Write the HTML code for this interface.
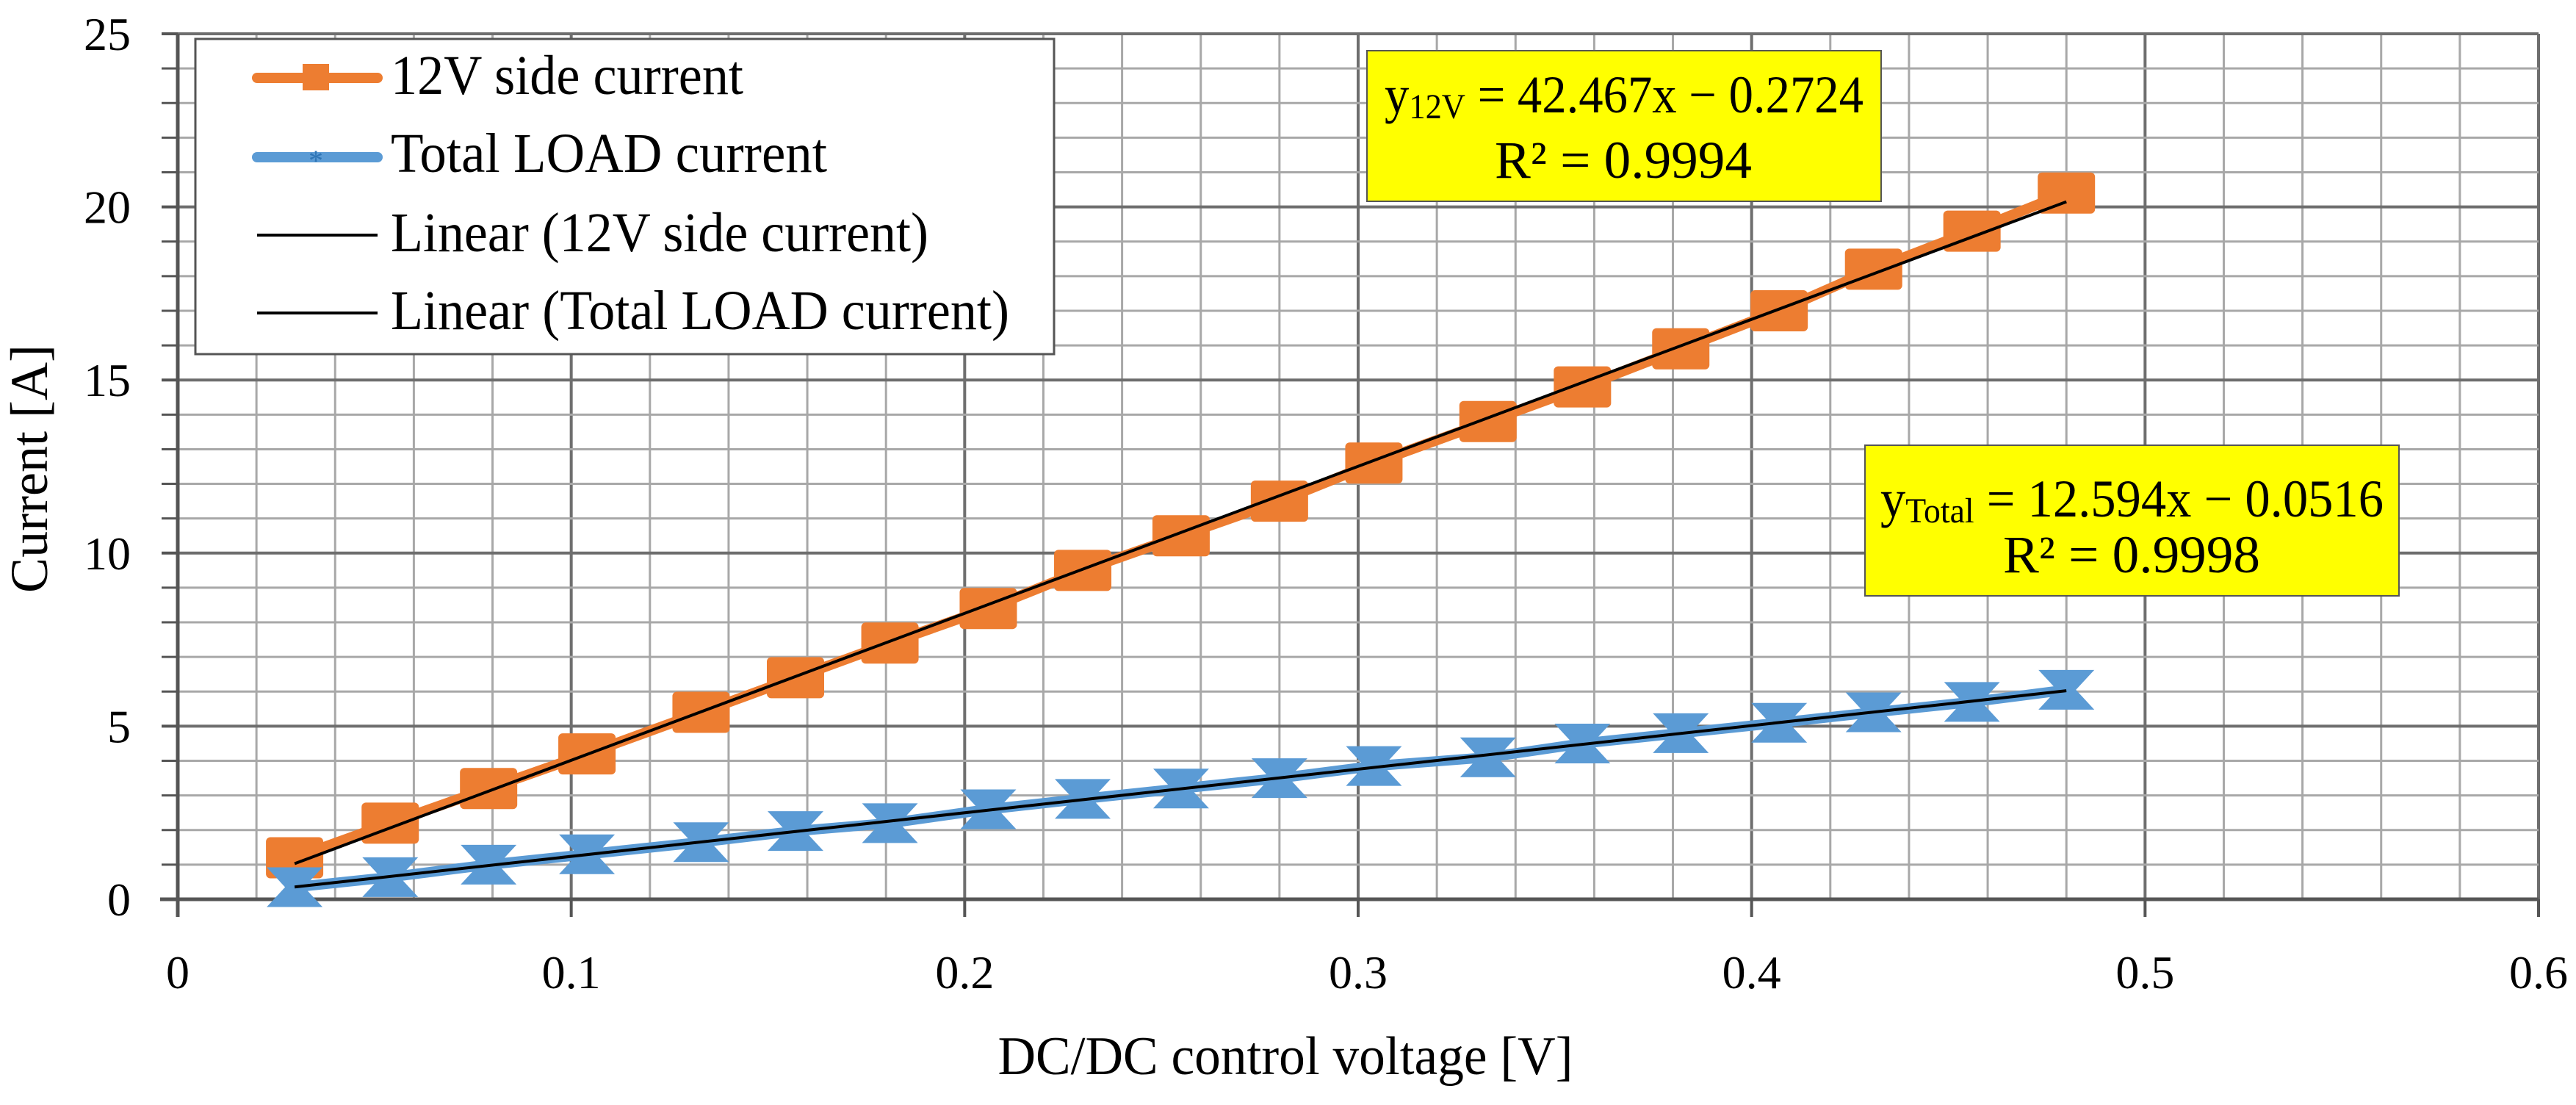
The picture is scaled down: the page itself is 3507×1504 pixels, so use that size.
<!DOCTYPE html>
<html><head><meta charset="utf-8"><style>
html,body{margin:0;padding:0;background:#fff;}
svg{display:block;font-family:"Liberation Serif",serif;}
</style></head><body>
<svg id="chart" width="3507" height="1504" viewBox="0 0 3507 1504" xmlns="http://www.w3.org/2000/svg">
<g id="grid"></g>
<g id="axes"></g>
<g id="series"></g>
<g>
  <rect x="266" y="53" width="1169" height="429" fill="#fff" stroke="#555" stroke-width="3"/>
  <g>
    <line x1="350" y1="106" x2="514" y2="106" stroke="#ED7D31" stroke-width="14" stroke-linecap="round"/>
    <rect x="412" y="87" width="36" height="36" fill="#ED7D31"/>
    <text x="532" y="128" font-size="76" textLength="480" lengthAdjust="spacingAndGlyphs">12V side current</text>
  </g>
  <g>
    <line x1="350" y1="214" x2="514" y2="214" stroke="#5B9BD5" stroke-width="14" stroke-linecap="round"/>
    <text x="430" y="232" font-size="40" fill="#2E75B6" text-anchor="middle">*</text>
    <text x="532" y="234" font-size="76" textLength="594" lengthAdjust="spacingAndGlyphs">Total LOAD current</text>
  </g>
  <g>
    <line x1="350" y1="320" x2="514" y2="320" stroke="#000" stroke-width="4"/>
    <text x="532" y="342" font-size="76" textLength="732" lengthAdjust="spacingAndGlyphs">Linear (12V side current)</text>
  </g>
  <g>
    <line x1="350" y1="426" x2="514" y2="426" stroke="#000" stroke-width="4"/>
    <text x="532" y="448" font-size="76" textLength="842" lengthAdjust="spacingAndGlyphs">Linear (Total LOAD current)</text>
  </g>
</g>
<g>
  <rect x="1861" y="69" width="700" height="205" fill="#FFFF00" stroke="#555" stroke-width="2"/>
  <text x="1885" y="153" font-size="72" textLength="652" lengthAdjust="spacingAndGlyphs">y<tspan font-size="48" dy="8">12V</tspan><tspan dy="-8"> = 42.467x − 0.2724</tspan></text>
  <text x="2210" y="242" font-size="72" text-anchor="middle" textLength="350" lengthAdjust="spacingAndGlyphs">R² = 0.9994</text>
</g>
<g>
  <rect x="2539" y="606" width="727" height="205" fill="#FFFF00" stroke="#555" stroke-width="2"/>
  <text x="2560" y="703" font-size="72" textLength="685" lengthAdjust="spacingAndGlyphs">y<tspan font-size="48" dy="8">Total</tspan><tspan dy="-8"> = 12.594x − 0.0516</tspan></text>
  <text x="2902" y="779" font-size="72" text-anchor="middle" textLength="350" lengthAdjust="spacingAndGlyphs">R² = 0.9998</text>
</g>
<text x="1750" y="1462" font-size="74" text-anchor="middle" textLength="783" lengthAdjust="spacingAndGlyphs">DC/DC control voltage [V]</text>
<text x="0" y="0" font-size="72" text-anchor="middle" transform="translate(64,638) rotate(-90)">Current [A]</text>
</svg>
<script>
const xVals = [0.0297,0.054,0.079,0.104,0.133,0.157,0.181,0.206,0.230,0.255,0.280,0.304,0.333,0.357,0.382,0.407,0.431,0.456,0.480];
const current12V = [1.2,2.2,3.2,4.2,5.4,6.4,7.4,8.4,9.5,10.5,11.5,12.6,13.8,14.8,15.9,17.0,18.2,19.3,20.4];
const currentTotal = [0.35,0.64,1.0,1.3,1.65,1.97,2.2,2.6,2.9,3.2,3.5,3.85,4.1,4.5,4.8,5.1,5.4,5.7,6.05];
const xTicks = ["0","0.1","0.2","0.3","0.4","0.5","0.6"];
const yTicks = ["0","5","10","15","20","25"];

const NS="http://www.w3.org/2000/svg";
const L=242,R=3456,T=46,B=1224,XMAX=0.6,YMAX=25;
const sx=v=>L+(v/XMAX)*(R-L);
const sy=v=>B-(v/YMAX)*(B-T);
function mk(tag,attrs,parent){const e=document.createElementNS(NS,tag);for(const k in attrs)e.setAttribute(k,attrs[k]);parent.appendChild(e);return e;}
const grid=document.getElementById('grid'),axes=document.getElementById('axes'),series=document.getElementById('series');

for(let i=0;i<=30;i++){
  const v=i*0.02;if(i===0)continue;
  const major=i%5===0;
  const ln=mk('line',{x1:sx(v),x2:sx(v),y1:T,y2:B,stroke:major?'#6e6e6e':'#a8a8a8','stroke-width':major?4:3},grid);
  
  
}
for(let i=1;i<=25;i++){
  const major=i%5===0;
  const ln=mk('line',{x1:L,x2:R,y1:sy(i),y2:sy(i),stroke:major?'#6e6e6e':'#a8a8a8','stroke-width':major?4:3},grid);
  
  
  const tk=mk('line',{x1:L-22,x2:L,y1:sy(i),y2:sy(i),stroke:'#555','stroke-width':major?4:3},grid);
  
  
}
const ya=mk('line',{x1:L,x2:L,y1:T,y2:B+24,stroke:'#555','stroke-width':5},axes);


const xa=mk('line',{x1:L-24,x2:R,y1:B,y2:B,stroke:'#555','stroke-width':5},axes);


xTicks.forEach((t,i)=>{
  const v=i*0.1;
  const tl=mk('text',{x:sx(v),y:1345,'font-size':64,'text-anchor':'middle'},axes);tl.textContent=t;
  
  
  const tk=mk('line',{x1:sx(v),x2:sx(v),y1:B,y2:B+24,stroke:'#555','stroke-width':4},axes);
  
  
});
yTicks.forEach((t,i)=>{
  const tl=mk('text',{x:178,y:sy(i*5)+22,'font-size':64,'text-anchor':'end'},axes);tl.textContent=t;
  
  
});

function fit(xs,ys){const n=xs.length;let mx=0,my=0;xs.forEach((x,i)=>{mx+=x;my+=ys[i];});mx/=n;my/=n;let sxy=0,sxx=0;xs.forEach((x,i)=>{sxy+=(x-mx)*(ys[i]-my);sxx+=(x-mx)**2;});const m=sxy/sxx;return [m,my-m*mx];}

function drawSeries(ys,color,kind,name){
  const g=mk('g',{},series);
  
  
  const pts=xVals.map((x,i)=>sx(x)+','+sy(ys[i])).join(' ');
  const pl=mk('polyline',{points:pts,fill:'none',stroke:color,'stroke-width':14,'stroke-linejoin':'round'},g);
  
  
  xVals.forEach((x,i)=>{
    const cx=sx(x),cy=sy(ys[i]);let m;
    if(kind==='square'){m=mk('rect',{x:cx-39,y:cy-28,width:78,height:56,rx:6,fill:color},g);}
    else{const w=38,h=27,n=13;m=mk('polygon',{points:`${cx-w},${cy-h} ${cx+w},${cy-h} ${cx+n},${cy} ${cx+w},${cy+h} ${cx-w},${cy+h} ${cx-n},${cy}`,fill:color},g);}
    
    
  });
  return g;
}
function drawTrend(ys,name){
  const [m,b]=fit(xVals,ys);const x0=xVals[0],x1=xVals[xVals.length-1];
  const l=mk('line',{x1:sx(x0),y1:sy(m*x0+b),x2:sx(x1),y2:sy(m*x1+b),stroke:'#000','stroke-width':4},series);
  
  
}
drawSeries(current12V,'#ED7D31','square','series-12v-side-current');
drawSeries(currentTotal,'#5B9BD5','x','series-total-load-current');
drawTrend(current12V,'trendline-12v');
drawTrend(currentTotal,'trendline-total');
</script>
</body></html>
